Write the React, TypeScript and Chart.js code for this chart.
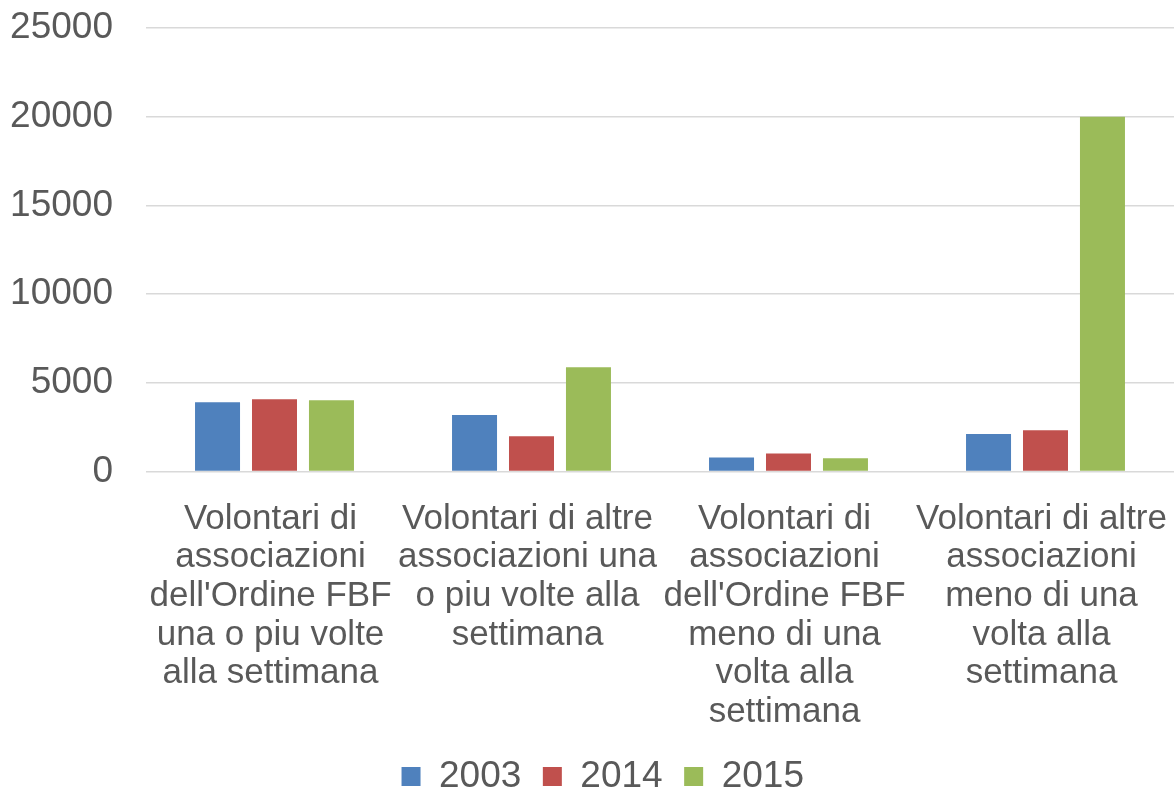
import React, { useEffect, useRef } from "react";
import { Chart, registerables } from "chart.js";

Chart.register(...registerables);

const categories: string[][] = [
  ["Volontari di", "associazioni", "dell'Ordine FBF", "una o piu volte", "alla settimana"],
  ["Volontari di altre", "associazioni una", "o piu volte alla", "settimana"],
  ["Volontari di", "associazioni", "dell'Ordine FBF", "meno di una", "volta alla", "settimana"],
  ["Volontari di altre", "associazioni", "meno di una", "volta alla", "settimana"],
];
const seriesNames = ["2003", "2014", "2015"];
const values2003 = [3900, 3190, 790, 2120];
const values2014 = [4070, 1990, 1010, 2320];
const values2015 = [4010, 5880, 750, 20000];
const seriesColors = ["#4F81BD", "#C0504D", "#9BBB59"];
const yTicks = [0, 5000, 10000, 15000, 20000, 25000];

const FONT = "'Liberation Sans', Arial, sans-serif";
const TEXT = "#595959";

const legendShift = {
  id: "legendShift",
  afterLayout(chart: any) {
    if (chart.legend) chart.legend.left = 31.5;
  },
};

export default function App() {
  const ref = useRef<HTMLCanvasElement | null>(null);
  useEffect(() => {
    if (!ref.current) return;
    const chart = new Chart(ref.current, {
      type: "bar",
      data: {
        labels: categories,
        datasets: [values2003, values2014, values2015].map((v, i) => ({
          label: seriesNames[i],
          data: v,
          backgroundColor: seriesColors[i],
          borderWidth: 0,
          categoryPercentage: 0.665,
          barPercentage: 0.79,
        })),
      },
      plugins: [legendShift],
      options: {
        animation: false,
        responsive: false,
        maintainAspectRatio: false,
        layout: { padding: { left: 0, right: 2, top: 28, bottom: -11 } },
        plugins: {
          tooltip: { enabled: false },
          legend: {
            position: "bottom",
            labels: {
              font: { family: FONT, size: 37 },
              color: TEXT,
              boxWidth: 19,
              boxHeight: 19,
              padding: 21.5,
            },
          },
        },
        scales: {
          x: {
            afterFit: (s: any) => {
              s.height = 265;
              s.paddingLeft = 0;
              s.paddingRight = 0;
            },
            grid: { display: false, drawTicks: false },
            border: { display: false },
            ticks: {
              font: { family: FONT, size: 35, lineHeight: 1.106 },
              color: TEXT,
              padding: 28,
              labelOffset: -4,
              maxRotation: 0,
              autoSkip: false,
            },
          },
          y: {
            min: 0,
            max: 25000,
            afterFit: (s: any) => {
              s.width = 146;
              s.paddingTop = 0;
              s.paddingBottom = 0;
            },
            afterBuildTicks: (s: any) => {
              s.ticks = yTicks.map((v) => ({ value: v }));
            },
            grid: { color: "#D9D9D9", lineWidth: 1.5, drawTicks: false },
            border: { display: false },
            ticks: {
              font: { family: FONT, size: 37 },
              color: TEXT,
              padding: 33,
              callback: (v: any) => String(v),
            },
          },
        },
      },
    });
    return () => chart.destroy();
  }, []);
  return (
    <div style={{ position: "fixed", left: 0, top: 0, width: 1176, height: 794, background: "#fff" }}>
      <canvas ref={ref} width={1176} height={794} style={{ display: "block" }} />
    </div>
  );
}
